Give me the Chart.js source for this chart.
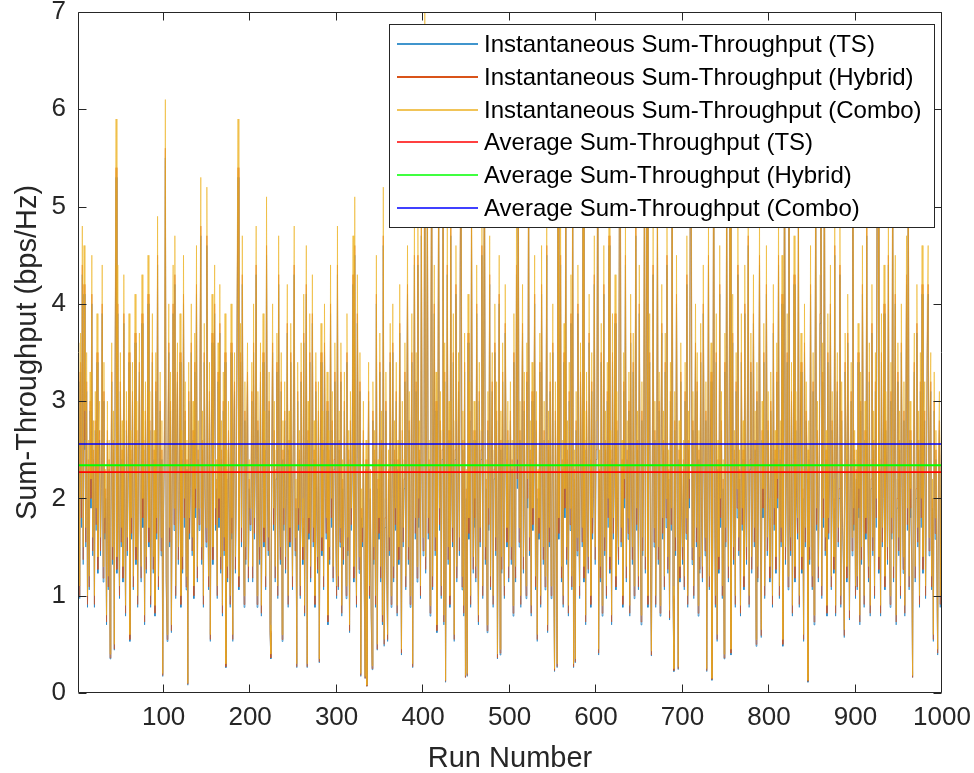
<!DOCTYPE html>
<html><head><meta charset="utf-8">
<script src="https://cdn.jsdelivr.net/npm/chart.js"></script>
<style>html,body{margin:0;padding:0;background:#fff;}#wrap{position:relative;width:974px;height:773px;}</style>
</head><body><div id="wrap"><canvas id="c" width="974" height="773"></canvas></div>
<script>
// Instantaneous Sum-Throughput (Combo), runs 1..1000
const comboValues = [
2.4,3.6,1.1,3.7,2.0,4.8,1.5,4.6,2.9,1.7,3.5,1.0,2.6,1.2,3.3,2.2,4.5,1.6,2.8,1.0,
3.1,1.9,3.9,1.4,2.7,3.0,1.6,2.4,4.4,1.3,3.4,1.8,2.3,0.8,3.0,1.2,2.6,0.4,2.0,3.6,
1.5,2.9,0.5,3.8,5.9,1.4,4.4,2.1,1.1,3.5,1.7,2.8,1.3,4.3,2.2,0.9,3.1,1.6,2.5,3.9,
0.6,2.7,1.8,3.4,1.2,2.3,4.1,1.5,3.0,1.0,2.6,3.7,1.9,1.3,4.3,2.0,2.9,0.8,3.2,1.4,
2.5,4.5,1.7,3.1,1.0,2.2,3.9,1.4,2.7,0.9,3.5,1.8,4.9,1.2,2.4,3.3,1.6,2.8,0.2,2.1,
3.0,6.1,1.3,0.6,2.8,4.0,1.7,3.3,0.7,2.5,4.4,1.9,4.7,1.1,2.9,3.6,1.5,2.2,3.9,1.0,
2.7,1.4,4.5,2.0,3.2,1.2,2.6,0.1,3.4,1.8,2.4,4.0,1.6,3.0,1.1,3.7,2.1,4.6,1.3,2.8,
1.9,3.5,5.3,1.5,2.9,1.0,3.8,2.3,1.7,5.2,2.6,1.2,3.4,0.6,2.7,4.1,1.5,3.1,4.4,1.9,
2.4,1.1,3.6,2.0,4.2,1.4,2.8,0.9,3.3,1.6,3.9,0.3,2.5,1.3,3.0,2.2,1.0,4.0,1.8,0.6,
2.9,3.5,1.4,2.3,4.3,5.9,1.2,2.6,3.8,1.7,4.7,2.1,1.0,3.2,1.5,2.8,3.6,1.3,2.4,1.9,
2.2,3.4,1.3,4.0,1.8,2.7,4.8,1.0,3.1,2.0,1.5,3.6,0.9,2.4,3.9,1.7,2.9,1.2,5.1,2.3,
1.6,3.3,0.7,0.4,2.6,4.0,1.9,3.0,1.3,2.5,3.7,1.1,4.7,2.1,1.5,3.5,0.6,2.8,1.9,3.2,
1.4,2.3,4.2,1.0,2.9,1.7,3.8,2.5,1.2,3.1,4.8,1.6,2.2,0.3,3.4,1.9,2.7,1.1,3.6,2.0,
1.5,4.1,0.9,2.6,4.6,0.3,3.0,1.8,3.9,1.3,2.4,4.3,1.7,2.8,1.0,3.5,2.1,1.4,3.2,0.35,
2.5,3.8,1.6,2.9,1.2,4.0,2.3,1.8,3.3,0.8,2.7,1.5,4.4,2.0,3.1,1.3,2.6,3.6,1.9,1.1,
4.8,1.2,2.9,1.7,3.6,0.9,2.4,1.5,3.3,2.0,1.1,3.9,1.6,2.7,0.7,3.1,1.9,2.5,4.7,1.3,
5.1,2.2,1.0,4.3,2.8,1.4,3.5,0.2,2.1,1.7,3.0,1.2,0.17,2.6,0.08,1.9,3.4,1.1,2.3,0.9,
0.28,3.2,1.5,2.7,1.0,4.5,0.5,2.4,1.8,3.7,1.3,2.9,0.8,5.2,0.55,2.0,3.3,1.4,0.6,2.5,
1.6,3.8,1.0,2.2,4.0,1.3,2.8,1.9,3.4,0.9,2.6,1.5,4.2,2.1,0.45,3.0,1.7,2.4,3.6,1.2,
2.7,4.6,1.5,3.1,1.0,2.3,3.9,0.3,2.6,5.0,1.8,3.5,1.3,4.9,2.0,2.8,1.1,5.3,2.4,1.6,
2.3,7.5,1.4,3.0,5.6,1.8,2.6,0.9,3.7,6.4,1.2,2.9,4.4,1.6,3.3,0.7,2.4,5.8,1.9,3.1,
1.1,2.7,6.8,0.8,3.6,0.13,2.2,4.8,1.5,3.0,1.0,5.3,2.5,1.7,3.9,0.6,2.8,4.6,1.3,2.1,
3.5,1.6,5.0,6.5,1.2,2.9,0.9,3.7,0.18,2.3,0.2,4.1,1.8,3.2,1.0,5.4,2.6,1.4,3.0,2.0,
1.3,4.4,2.2,0.8,3.4,1.7,2.7,5.1,1.1,3.8,6.2,1.5,2.4,0.7,3.1,1.9,4.7,1.2,2.8,3.5,
1.0,2.5,4.0,1.6,3.2,0.4,2.1,4.5,0.45,2.9,1.4,3.6,2.0,1.1,4.2,2.6,1.7,3.0,1.3,2.3,
3.2,1.5,2.6,0.9,3.9,2.1,1.3,4.8,2.4,6.4,1.7,3.0,1.0,2.7,4.2,1.4,3.3,2.0,1.1,3.6,
2.2,5.9,1.6,2.8,0.9,3.4,1.9,2.5,4.5,1.2,3.1,0.6,2.3,1.8,3.7,1.0,4.6,2.6,1.5,3.0,
1.2,2.4,5.1,0.7,2.9,1.7,3.5,1.1,2.2,4.0,1.4,0.25,3.2,2.0,0.3,6.7,1.8,2.7,4.9,1.3,
2.6,1.0,3.8,2.1,5.5,1.5,2.8,0.9,3.4,1.9,4.3,1.2,6.2,0.3,2.5,0.35,3.1,1.6,4.4,2.2,
1.1,3.6,2.4,1.7,5.8,1.3,2.9,0.8,3.3,2.0,1.4,4.1,2.6,1.0,3.5,1.8,2.3,4.7,1.5,2.8,
3.0,6.8,0.45,2.5,1.3,3.8,0.9,2.2,4.6,1.6,2.9,1.1,3.4,2.0,5.2,1.4,2.7,0.8,3.9,1.8,
2.4,4.3,1.2,3.1,2.0,1.5,5.6,6.6,1.7,2.6,1.0,3.5,2.2,4.9,1.3,2.8,1.8,3.3,0.9,4.1,
2.3,1.5,3.7,1.1,2.6,5.3,1.9,2.9,1.2,4.4,2.1,0.8,3.2,1.6,2.5,6.1,1.4,3.6,6.8,1.0,
2.7,3.9,1.3,0.43,2.4,4.8,1.7,3.0,1.0,2.2,5.4,1.5,3.3,0.9,2.6,4.2,1.8,2.9,1.2,3.7,
2.0,5.0,1.4,2.5,0.85,3.4,1.9,6.3,1.1,0.25,3.1,1.6,4.5,2.3,0.27,2.8,1.3,3.6,2.1,1.5,
2.6,1.2,3.4,1.8,4.7,1.0,2.9,2.2,5.9,6.5,1.5,3.1,1.1,2.4,4.0,1.7,3.5,0.9,2.7,1.4,
3.8,2.0,1.3,4.4,2.5,1.6,3.2,0.25,2.1,4.9,1.2,2.8,3.6,0.15,1.8,6.7,2.3,1.0,3.9,0.6,
2.6,1.4,4.6,2.0,3.1,1.1,2.4,0.4,3.7,1.7,5.7,2.9,1.3,3.3,6.2,0.45,2.2,4.1,1.5,2.7,
1.0,3.5,2.1,4.8,1.6,2.5,0.9,3.9,1.9,2.8,1.2,4.4,2.3,1.5,3.2,5.2,1.0,2.6,3.7,1.4,
2.2,4.3,1.7,2.9,0.55,3.4,1.3,2.5,4.9,1.8,0.65,3.0,2.1,3.8,1.1,2.4,4.6,1.6,3.1,2.0,
1.3,3.3,2.6,1.0,4.2,1.9,2.7,1.4,3.6,2.2,5.0,1.1,2.8,1.7,4.5,0.55,3.0,6.6,1.5,2.4,
3.9,1.2,6.2,2.0,1.6,3.4,0.9,2.6,4.7,1.3,3.1,2.2,1.8,5.4,1.0,2.9,3.7,1.4,2.3,0.6,
4.0,1.7,3.2,2.5,0.13,2.8,1.5,4.6,2.1,1.2,3.5,0.8,2.6,5.8,1.9,3.0,1.3,2.4,4.3,6.4,
1.1,3.6,2.0,6.6,1.6,2.7,0.9,3.9,1.8,2.5,4.4,1.2,3.1,2.2,1.4,5.1,0.9,2.8,3.5,1.7,
2.3,4.8,1.0,3.2,2.0,1.5,0.65,3.7,2.6,1.3,4.1,2.9,0.85,2.4,3.4,1.6,5.5,1.9,2.7,1.1,
2.5,1.2,3.8,2.1,0.8,3.3,1.5,4.6,2.7,1.0,3.0,1.8,5.3,2.2,1.3,3.6,0.9,2.4,4.2,1.6,
2.9,1.1,3.5,2.0,6.3,6.1,1.4,2.6,0.9,3.9,1.7,2.3,4.4,1.2,3.1,2.5,1.5,5.0,2.0,1.0,
3.4,1.8,6.3,1.3,2.7,4.5,0.8,2.2,3.6,1.6,2.9,1.1,4.0,2.4,1.4,3.2,0.9,2.6,4.7,1.9,
6.5,1.2,3.0,2.1,1.5,0.18,2.8,3.7,1.3,2.3,4.2,1.7,2.9,1.0,3.5,2.0,4.6,1.4,2.6,3.2,
1.1,2.4,4.0,4.6,1.6,2.9,3.5,1.2,2.2,0.6,3.3,1.8,2.7,1.4,0.45,2.5,3.1,1.0,2.6,3.3
];
// Instantaneous Sum-Throughput (Hybrid)
const hybridValues = [
2.2,3.3,1.0,3.4,1.8,4.4,1.37,4.2,2.6,1.55,3.2,0.91,2.4,1.09,3.0,2.0,4.1,1.46,2.5,0.91,
2.8,1.73,3.5,1.27,2.5,2.7,1.46,2.2,4.0,1.18,3.1,1.64,2.1,0.73,2.7,1.09,2.4,0.36,1.8,3.3,
1.37,2.6,0.45,3.5,5.4,1.27,4.0,1.9,1.0,3.2,1.55,2.5,1.18,3.9,2.0,0.82,2.8,1.46,2.3,3.5,
0.55,2.5,1.64,3.1,1.09,2.1,3.7,1.37,2.7,0.91,2.4,3.4,1.73,1.18,3.9,1.8,2.6,0.73,2.9,1.27,
2.3,4.1,1.55,2.8,0.91,2.0,3.5,1.27,2.5,0.82,3.2,1.64,4.5,1.09,2.2,3.0,1.46,2.5,0.18,1.9,
2.7,5.6,1.18,0.55,2.5,3.6,1.55,3.0,0.64,2.3,4.0,1.73,4.3,1.0,2.6,3.3,1.37,2.0,3.5,0.91,
2.5,1.27,4.1,1.8,2.9,1.09,2.4,0.09,3.1,1.64,2.2,3.6,1.46,2.7,1.0,3.4,1.9,4.2,1.18,2.5,
1.73,3.2,4.8,1.37,2.6,0.91,3.5,2.1,1.55,4.7,2.4,1.09,3.1,0.55,2.5,3.7,1.37,2.8,4.0,1.73,
2.2,1.0,3.3,1.8,3.8,1.27,2.5,0.82,3.0,1.46,3.5,0.27,2.3,1.18,2.7,2.0,0.91,3.6,1.64,0.55,
2.6,3.2,1.27,2.1,3.9,5.4,1.09,2.4,3.5,1.55,4.3,1.9,0.91,2.9,1.37,2.5,3.3,1.18,2.2,1.73,
2.0,3.1,1.18,3.6,1.64,2.5,4.4,0.91,2.8,1.8,1.37,3.3,0.82,2.2,3.5,1.55,2.6,1.09,4.6,2.1,
1.46,3.0,0.64,0.36,2.4,3.6,1.73,2.7,1.18,2.3,3.4,1.0,4.3,1.9,1.37,3.2,0.55,2.5,1.73,2.9,
1.27,2.1,3.8,0.91,2.6,1.55,3.5,2.3,1.09,2.8,4.4,1.46,2.0,0.27,3.1,1.73,2.5,1.0,3.3,1.8,
1.37,3.7,0.82,2.4,4.2,0.27,2.7,1.64,3.5,1.18,2.2,3.9,1.55,2.5,0.91,3.2,1.9,1.27,2.9,0.32,
2.3,3.5,1.46,2.6,1.09,3.6,2.1,1.64,3.0,0.73,2.5,1.37,4.0,1.8,2.8,1.18,2.4,3.3,1.73,1.0,
4.4,1.09,2.6,1.55,3.3,0.82,2.2,1.37,3.0,1.8,1.0,3.5,1.46,2.5,0.64,2.8,1.73,2.3,4.3,1.18,
4.6,2.0,0.91,3.9,2.5,1.27,3.2,0.18,1.9,1.55,2.7,1.09,0.15,2.4,0.07,1.73,3.1,1.0,2.1,0.82,
0.25,2.9,1.37,2.5,0.91,4.1,0.45,2.2,1.64,3.4,1.18,2.6,0.73,4.7,0.5,1.8,3.0,1.27,0.55,2.3,
1.46,3.5,0.91,2.0,3.6,1.18,2.5,1.73,3.1,0.82,2.4,1.37,3.8,1.9,0.41,2.7,1.55,2.2,3.3,1.09,
2.5,4.2,1.37,2.8,0.91,2.1,3.5,0.27,2.4,4.5,1.64,3.2,1.18,4.5,1.8,2.5,1.0,4.8,2.2,1.46,
2.1,6.8,1.27,2.7,5.1,1.64,2.4,0.82,3.4,5.8,1.09,2.6,4.0,1.46,3.0,0.64,2.2,5.3,1.73,2.8,
1.0,2.5,6.2,0.73,3.3,0.12,2.0,4.4,1.37,2.7,0.91,4.8,2.3,1.55,3.5,0.55,2.5,4.2,1.18,1.9,
3.2,1.46,4.5,5.9,1.09,2.6,0.82,3.4,0.16,2.1,0.18,3.7,1.64,2.9,0.91,4.9,2.4,1.27,2.7,1.8,
1.18,4.0,2.0,0.73,3.1,1.55,2.5,4.6,1.0,3.5,5.6,1.37,2.2,0.64,2.8,1.73,4.3,1.09,2.5,3.2,
0.91,2.3,3.6,1.46,2.9,0.36,1.9,4.1,0.41,2.6,1.27,3.3,1.8,1.0,3.8,2.4,1.55,2.7,1.18,2.1,
2.9,1.37,2.4,0.82,3.5,1.9,1.18,4.4,2.2,5.8,1.55,2.7,0.91,2.5,3.8,1.27,3.0,1.8,1.0,3.3,
2.0,5.4,1.46,2.5,0.82,3.1,1.73,2.3,4.1,1.09,2.8,0.55,2.1,1.64,3.4,0.91,4.2,2.4,1.37,2.7,
1.09,2.2,4.6,0.64,2.6,1.55,3.2,1.0,2.0,3.6,1.27,0.23,2.9,1.8,0.27,6.1,1.64,2.5,4.5,1.18,
2.4,0.91,3.5,1.9,5.0,1.37,2.5,0.82,3.1,1.73,3.9,1.09,5.6,0.27,2.3,0.32,2.8,1.46,4.0,2.0,
1.0,3.3,2.2,1.55,5.3,1.18,2.6,0.73,3.0,1.8,1.27,3.7,2.4,0.91,3.2,1.64,2.1,4.3,1.37,2.5,
2.7,6.2,0.41,2.3,1.18,3.5,0.82,2.0,4.2,1.46,2.6,1.0,3.1,1.8,4.7,1.27,2.5,0.73,3.5,1.64,
2.2,3.9,1.09,2.8,1.8,1.37,5.1,6.0,1.55,2.4,0.91,3.2,2.0,4.5,1.18,2.5,1.64,3.0,0.82,3.7,
2.1,1.37,3.4,1.0,2.4,4.8,1.73,2.6,1.09,4.0,1.9,0.73,2.9,1.46,2.3,5.6,1.27,3.3,6.2,0.91,
2.5,3.5,1.18,0.39,2.2,4.4,1.55,2.7,0.91,2.0,4.9,1.37,3.0,0.82,2.4,3.8,1.64,2.6,1.09,3.4,
1.8,4.5,1.27,2.3,0.77,3.1,1.73,5.7,1.0,0.23,2.8,1.46,4.1,2.1,0.25,2.5,1.18,3.3,1.9,1.37,
2.4,1.09,3.1,1.64,4.3,0.91,2.6,2.0,5.4,5.9,1.37,2.8,1.0,2.2,3.6,1.55,3.2,0.82,2.5,1.27,
3.5,1.8,1.18,4.0,2.3,1.46,2.9,0.23,1.9,4.5,1.09,2.5,3.3,0.14,1.64,6.1,2.1,0.91,3.5,0.55,
2.4,1.27,4.2,1.8,2.8,1.0,2.2,0.36,3.4,1.55,5.2,2.6,1.18,3.0,5.6,0.41,2.0,3.7,1.37,2.5,
0.91,3.2,1.9,4.4,1.46,2.3,0.82,3.5,1.73,2.5,1.09,4.0,2.1,1.37,2.9,4.7,0.91,2.4,3.4,1.27,
2.0,3.9,1.55,2.6,0.5,3.1,1.18,2.3,4.5,1.64,0.59,2.7,1.9,3.5,1.0,2.2,4.2,1.46,2.8,1.8,
1.18,3.0,2.4,0.91,3.8,1.73,2.5,1.27,3.3,2.0,4.5,1.0,2.5,1.55,4.1,0.5,2.7,6.0,1.37,2.2,
3.5,1.09,5.6,1.8,1.46,3.1,0.82,2.4,4.3,1.18,2.8,2.0,1.64,4.9,0.91,2.6,3.4,1.27,2.1,0.55,
3.6,1.55,2.9,2.3,0.12,2.5,1.37,4.2,1.9,1.09,3.2,0.73,2.4,5.3,1.73,2.7,1.18,2.2,3.9,5.8,
1.0,3.3,1.8,6.0,1.46,2.5,0.82,3.5,1.64,2.3,4.0,1.09,2.8,2.0,1.27,4.6,0.82,2.5,3.2,1.55,
2.1,4.4,0.91,2.9,1.8,1.37,0.59,3.4,2.4,1.18,3.7,2.6,0.77,2.2,3.1,1.46,5.0,1.73,2.5,1.0,
2.3,1.09,3.5,1.9,0.73,3.0,1.37,4.2,2.5,0.91,2.7,1.64,4.8,2.0,1.18,3.3,0.82,2.2,3.8,1.46,
2.6,1.0,3.2,1.8,5.7,5.6,1.27,2.4,0.82,3.5,1.55,2.1,4.0,1.09,2.8,2.3,1.37,4.5,1.8,0.91,
3.1,1.64,5.7,1.18,2.5,4.1,0.73,2.0,3.3,1.46,2.6,1.0,3.6,2.2,1.27,2.9,0.82,2.4,4.3,1.73,
5.9,1.09,2.7,1.9,1.37,0.16,2.5,3.4,1.18,2.1,3.8,1.55,2.6,0.91,3.2,1.8,4.2,1.27,2.4,2.9,
1.0,2.2,3.6,4.2,1.46,2.6,3.2,1.09,2.0,0.55,3.0,1.64,2.5,1.27,0.41,2.3,2.8,0.91,2.4,3.0
];
// Instantaneous Sum-Throughput (TS)
const tsValues = [
2.1,3.2,0.97,3.3,1.7,4.3,1.32,4.1,2.5,1.5,3.1,0.88,2.3,1.06,2.9,1.9,4.0,1.41,2.4,0.88,
2.7,1.67,3.4,1.23,2.4,2.6,1.41,2.1,3.9,1.14,3.0,1.58,2.0,0.7,2.6,1.06,2.3,0.35,1.7,3.2,
1.32,2.5,0.44,3.4,5.3,1.23,3.9,1.8,0.97,3.1,1.5,2.4,1.14,3.8,1.9,0.79,2.7,1.41,2.2,3.4,
0.53,2.4,1.58,3.0,1.06,2.0,3.6,1.32,2.6,0.88,2.3,3.3,1.67,1.14,3.8,1.7,2.5,0.7,2.8,1.23,
2.2,4.0,1.5,2.7,0.88,1.9,3.4,1.23,2.4,0.79,3.1,1.58,4.4,1.06,2.1,2.9,1.41,2.4,0.17,1.8,
2.6,5.5,1.14,0.53,2.4,3.5,1.5,2.9,0.62,2.2,3.9,1.67,4.2,0.97,2.5,3.2,1.32,1.9,3.4,0.88,
2.4,1.23,4.0,1.7,2.8,1.06,2.3,0.08,3.0,1.58,2.1,3.5,1.41,2.6,0.97,3.3,1.8,4.1,1.14,2.4,
1.67,3.1,4.7,1.32,2.5,0.88,3.4,2.0,1.5,4.6,2.3,1.06,3.0,0.53,2.4,3.6,1.32,2.7,3.9,1.67,
2.1,0.97,3.2,1.7,3.7,1.23,2.4,0.79,2.9,1.41,3.4,0.26,2.2,1.14,2.6,1.9,0.88,3.5,1.58,0.53,
2.5,3.1,1.23,2.0,3.8,5.3,1.06,2.3,3.4,1.5,4.2,1.8,0.88,2.8,1.32,2.4,3.2,1.14,2.1,1.67,
1.9,3.0,1.14,3.5,1.58,2.4,4.3,0.88,2.7,1.7,1.32,3.2,0.79,2.1,3.4,1.5,2.5,1.06,4.5,2.0,
1.41,2.9,0.62,0.35,2.3,3.5,1.67,2.6,1.14,2.2,3.3,0.97,4.2,1.8,1.32,3.1,0.53,2.4,1.67,2.8,
1.23,2.0,3.7,0.88,2.5,1.5,3.4,2.2,1.06,2.7,4.3,1.41,1.9,0.26,3.0,1.67,2.4,0.97,3.2,1.7,
1.32,3.6,0.79,2.3,4.1,0.26,2.6,1.58,3.4,1.14,2.1,3.8,1.5,2.4,0.88,3.1,1.8,1.23,2.8,0.31,
2.2,3.4,1.41,2.5,1.06,3.5,2.0,1.58,2.9,0.7,2.4,1.32,3.9,1.7,2.7,1.14,2.3,3.2,1.67,0.97,
4.3,1.06,2.5,1.5,3.2,0.79,2.1,1.32,2.9,1.7,0.97,3.4,1.41,2.4,0.62,2.7,1.67,2.2,4.2,1.14,
4.5,1.9,0.88,3.8,2.4,1.23,3.1,0.17,1.8,1.5,2.6,1.06,0.15,2.3,0.07,1.67,3.0,0.97,2.0,0.79,
0.24,2.8,1.32,2.4,0.88,4.0,0.44,2.1,1.58,3.3,1.14,2.5,0.7,4.6,0.48,1.7,2.9,1.23,0.53,2.2,
1.41,3.4,0.88,1.9,3.5,1.14,2.4,1.67,3.0,0.79,2.3,1.32,3.7,1.8,0.39,2.6,1.5,2.1,3.2,1.06,
2.4,4.1,1.32,2.7,0.88,2.0,3.4,0.26,2.3,4.4,1.58,3.1,1.14,4.4,1.7,2.4,0.97,4.7,2.1,1.41,
2.0,6.7,1.23,2.6,5.0,1.58,2.3,0.79,3.3,5.7,1.06,2.5,3.9,1.41,2.9,0.62,2.1,5.2,1.67,2.7,
0.97,2.4,6.1,0.7,3.2,0.11,1.9,4.3,1.32,2.6,0.88,4.7,2.2,1.5,3.4,0.53,2.4,4.1,1.14,1.8,
3.1,1.41,4.4,5.8,1.06,2.5,0.79,3.3,0.16,2.0,0.17,3.6,1.58,2.8,0.88,4.8,2.3,1.23,2.6,1.7,
1.14,3.9,1.9,0.7,3.0,1.5,2.4,4.5,0.97,3.4,5.5,1.32,2.1,0.62,2.7,1.67,4.2,1.06,2.4,3.1,
0.88,2.2,3.5,1.41,2.8,0.35,1.8,4.0,0.39,2.5,1.23,3.2,1.7,0.97,3.7,2.3,1.5,2.6,1.14,2.0,
2.8,1.32,2.3,0.79,3.4,1.8,1.14,4.3,2.1,5.7,1.5,2.6,0.88,2.4,3.7,1.23,2.9,1.7,0.97,3.2,
1.9,5.3,1.41,2.4,0.79,3.0,1.67,2.2,4.0,1.06,2.7,0.53,2.0,1.58,3.3,0.88,4.1,2.3,1.32,2.6,
1.06,2.1,4.5,0.62,2.5,1.5,3.1,0.97,1.9,3.5,1.23,0.22,2.8,1.7,0.26,6.0,1.58,2.4,4.4,1.14,
2.3,0.88,3.4,1.8,4.9,1.32,2.4,0.79,3.0,1.67,3.8,1.06,5.5,0.26,2.2,0.31,2.7,1.41,3.9,1.9,
0.97,3.2,2.1,1.5,5.2,1.14,2.5,0.7,2.9,1.7,1.23,3.6,2.3,0.88,3.1,1.58,2.0,4.2,1.32,2.4,
2.6,6.1,0.39,2.2,1.14,3.4,0.79,1.9,4.1,1.41,2.5,0.97,3.0,1.7,4.6,1.23,2.4,0.7,3.4,1.58,
2.1,3.8,1.06,2.7,1.7,1.32,5.0,5.9,1.5,2.3,0.88,3.1,1.9,4.4,1.14,2.4,1.58,2.9,0.79,3.6,
2.0,1.32,3.3,0.97,2.3,4.7,1.67,2.5,1.06,3.9,1.8,0.7,2.8,1.41,2.2,5.5,1.23,3.2,6.1,0.88,
2.4,3.4,1.14,0.38,2.1,4.3,1.5,2.6,0.88,1.9,4.8,1.32,2.9,0.79,2.3,3.7,1.58,2.5,1.06,3.3,
1.7,4.4,1.23,2.2,0.75,3.0,1.67,5.6,0.97,0.22,2.7,1.41,4.0,2.0,0.24,2.4,1.14,3.2,1.8,1.32,
2.3,1.06,3.0,1.58,4.2,0.88,2.5,1.9,5.3,5.8,1.32,2.7,0.97,2.1,3.5,1.5,3.1,0.79,2.4,1.23,
3.4,1.7,1.14,3.9,2.2,1.41,2.8,0.22,1.8,4.4,1.06,2.4,3.2,0.13,1.58,6.0,2.0,0.88,3.4,0.53,
2.3,1.23,4.1,1.7,2.7,0.97,2.1,0.35,3.3,1.5,5.1,2.5,1.14,2.9,5.5,0.39,1.9,3.6,1.32,2.4,
0.88,3.1,1.8,4.3,1.41,2.2,0.79,3.4,1.67,2.4,1.06,3.9,2.0,1.32,2.8,4.6,0.88,2.3,3.3,1.23,
1.9,3.8,1.5,2.5,0.48,3.0,1.14,2.2,4.4,1.58,0.57,2.6,1.8,3.4,0.97,2.1,4.1,1.41,2.7,1.7,
1.14,2.9,2.3,0.88,3.7,1.67,2.4,1.23,3.2,1.9,4.4,0.97,2.4,1.5,4.0,0.48,2.6,5.9,1.32,2.1,
3.4,1.06,5.5,1.7,1.41,3.0,0.79,2.3,4.2,1.14,2.7,1.9,1.58,4.8,0.88,2.5,3.3,1.23,2.0,0.53,
3.5,1.5,2.8,2.2,0.11,2.4,1.32,4.1,1.8,1.06,3.1,0.7,2.3,5.2,1.67,2.6,1.14,2.1,3.8,5.7,
0.97,3.2,1.7,5.9,1.41,2.4,0.79,3.4,1.58,2.2,3.9,1.06,2.7,1.9,1.23,4.5,0.79,2.4,3.1,1.5,
2.0,4.3,0.88,2.8,1.7,1.32,0.57,3.3,2.3,1.14,3.6,2.5,0.75,2.1,3.0,1.41,4.9,1.67,2.4,0.97,
2.2,1.06,3.4,1.8,0.7,2.9,1.32,4.1,2.4,0.88,2.6,1.58,4.7,1.9,1.14,3.2,0.79,2.1,3.7,1.41,
2.5,0.97,3.1,1.7,5.6,5.5,1.23,2.3,0.79,3.4,1.5,2.0,3.9,1.06,2.7,2.2,1.32,4.4,1.7,0.88,
3.0,1.58,5.6,1.14,2.4,4.0,0.7,1.9,3.2,1.41,2.5,0.97,3.5,2.1,1.23,2.8,0.79,2.3,4.2,1.67,
5.8,1.06,2.6,1.8,1.32,0.16,2.4,3.3,1.14,2.0,3.7,1.5,2.5,0.88,3.1,1.7,4.1,1.23,2.3,2.8,
0.97,2.1,3.5,4.1,1.41,2.5,3.1,1.06,1.9,0.53,2.9,1.58,2.4,1.23,0.39,2.2,2.7,0.88,2.3,2.9
];
// Average Sum-Throughput levels
const avgTS = 2.27;
const avgHybrid = 2.34;
const avgCombo = 2.56;
const xTicks = [100,200,300,400,500,600,700,800,900,1000];
const yTicks = [0,1,2,3,4,5,6,7];
const legendLabels = [
  'Instantaneous Sum-Throughput (TS)',
  'Instantaneous Sum-Throughput (Hybrid)',
  'Instantaneous Sum-Throughput (Combo)',
  'Average Sum-Throughput (TS)',
  'Average Sum-Throughput (Hybrid)',
  'Average Sum-Throughput (Combo)'
];
const seriesColors = ['#0072BD','#D95319','#EDB120','#FF0000','#00FF00','#0000FF'];

const runNumbers = comboValues.map((_, i) => i + 1);
const toPoints = vals => vals.map((y, i) => ({x: runNumbers[i], y: y}));
const flat = v => [{x: runNumbers[0], y: v}, {x: runNumbers[runNumbers.length - 1], y: v}];

const FONT = "'Liberation Sans', Arial, sans-serif";
const AX = '#262626';

const framePlugin = {
  id: 'frameAndLegend',
  afterDraw(chart) {
    const {ctx, chartArea: a, scales: {x, y}} = chart;
    ctx.save();
    ctx.strokeStyle = AX;
    ctx.lineWidth = 1;
    const L = Math.round(a.left) + 0.5, R = Math.round(a.right) - 0.5;
    const T = Math.round(a.top) + 0.5, B = Math.round(a.bottom) - 0.5;
    ctx.beginPath();
    ctx.rect(L, T, R - L, B - T);
    xTicks.forEach(v => {
      const p = Math.round(x.getPixelForValue(v)) - 0.5;
      ctx.moveTo(p, B); ctx.lineTo(p, B - 8);
      ctx.moveTo(p, T); ctx.lineTo(p, T + 8);
    });
    yTicks.forEach(v => {
      const p = Math.round(y.getPixelForValue(v)) + 0.5;
      ctx.moveTo(L, p); ctx.lineTo(L + 8, p);
      ctx.moveTo(R, p); ctx.lineTo(R - 8, p);
    });
    ctx.stroke();

    // legend box
    const bx = 389.5, by = 24.5, bw = 545, bh = 203;
    ctx.fillStyle = '#ffffff';
    ctx.fillRect(bx, by, bw, bh);
    ctx.strokeStyle = AX;
    ctx.lineWidth = 1;
    ctx.strokeRect(bx, by, bw, bh);
    ctx.font = "24px " + FONT;
    ctx.textBaseline = 'middle';
    ctx.textAlign = 'left';
    legendLabels.forEach((lab, i) => {
      const ry = Math.round(44 + i * 32.8);
      ctx.strokeStyle = seriesColors[i];
      ctx.lineWidth = i === 1 ? 2 : 1.5;
      ctx.beginPath();
      ctx.moveTo(397, ry);
      ctx.lineTo(478, ry);
      ctx.stroke();
      ctx.fillStyle = '#000000';
      ctx.fillText(lab, 484, ry + 1);
    });
    ctx.restore();
  }
};

const lineDs = (label, data, color, order, width) => ({
  label, data, borderColor: color, backgroundColor: color, borderWidth: width,
  pointRadius: 0, pointHoverRadius: 0, tension: 0, fill: false, order: order
});

new Chart(document.getElementById('c'), {
  type: 'line',
  data: {
    datasets: [
      lineDs(legendLabels[0], toPoints(tsValues), seriesColors[0], 6, 0.6),
      lineDs(legendLabels[1], toPoints(hybridValues), seriesColors[1], 5, 0.6),
      lineDs(legendLabels[2], toPoints(comboValues), seriesColors[2], 4, 0.6),
      lineDs(legendLabels[3], flat(avgTS), seriesColors[3], 3, 1.6),
      lineDs(legendLabels[4], flat(avgHybrid), seriesColors[4], 2, 2),
      lineDs(legendLabels[5], flat(avgCombo), seriesColors[5], 1, 1.6)
    ]
  },
  options: {
    responsive: false,
    animation: false,
    devicePixelRatio: 1,
    parsing: false,
    normalized: true,
    events: [],
    layout: {padding: {top: 12, right: 32, left: 0, bottom: 0}},
    plugins: {legend: {display: false}, tooltip: {enabled: false}},
    scales: {
      x: {
        type: 'linear', min: 1, max: 1000,
        afterBuildTicks: s => { s.ticks = xTicks.map(v => ({value: v})); },
        afterFit: s => { s.height = 80; s.paddingLeft = 0; s.paddingRight = 0; },
        grid: {display: false, drawTicks: false},
        border: {display: false},
        ticks: {color: AX, font: {family: FONT, size: 26}, padding: 9, maxRotation: 0, autoSkip: false,
                callback: v => String(v)},
        title: {display: true, text: 'Run Number', color: AX, font: {family: FONT, size: 29, lineHeight: 1.0}, padding: {top: 0, bottom: 0}}
      },
      y: {
        type: 'linear', min: 0, max: 7,
        afterBuildTicks: s => { s.ticks = yTicks.map(v => ({value: v})); },
        afterFit: s => { s.width = 78; s.paddingTop = 0; s.paddingBottom = 0; },
        grid: {display: false, drawTicks: false},
        border: {display: false},
        ticks: {color: AX, font: {family: FONT, size: 26}, padding: 12, callback: v => String(v)},
        title: {display: true, text: 'Sum-Throughput (bps/Hz)', color: AX, font: {family: FONT, size: 29}, padding: {top: 11, bottom: 0}}
      }
    }
  },
  plugins: [framePlugin]
});
</script>
</body></html>
